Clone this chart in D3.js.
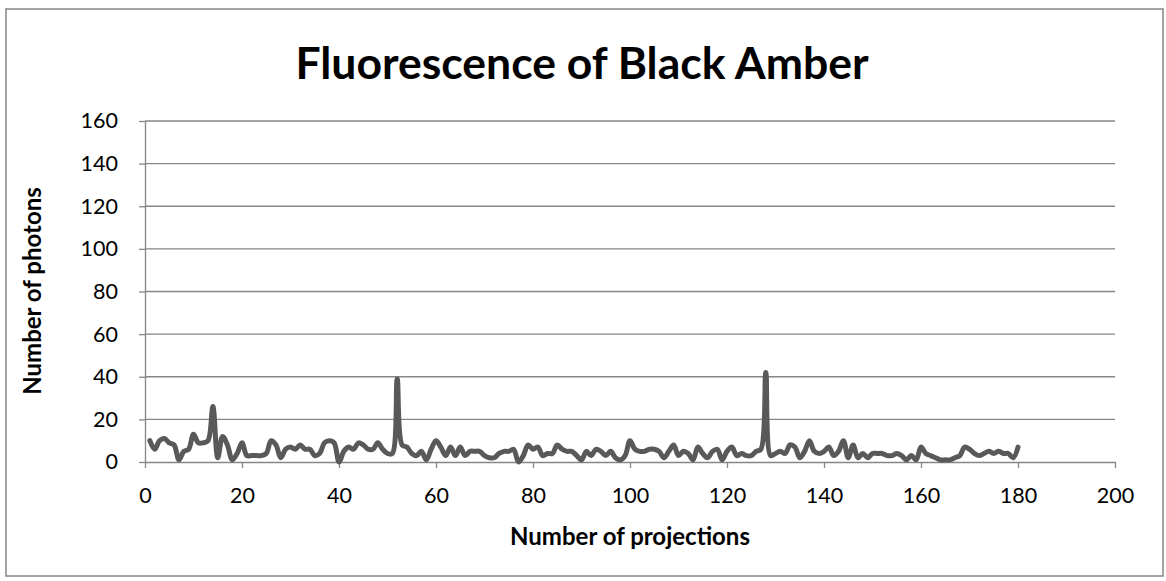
<!DOCTYPE html>
<html>
<head>
<meta charset="utf-8">
<script src="https://cdn.jsdelivr.net/npm/d3@7"></script>
<style>
  body { margin: 0; background: #fff; }
  text { font-family: Lato, "Open Sans", sans-serif; fill: #000; }
</style>
</head>
<body>
<script>
// photon counts per projection (projection 1..180)
let photons = [
  10, 6, 10, 11, 9, 8, 1, 5, 6, 13, 9, 9, 10, 26, 2, 12, 8, 1, 4, 9,
  3, 3, 3, 3, 4, 10, 8, 2, 6, 7, 6, 8, 6, 6, 3, 4, 9, 10, 9, 0,
  5, 7, 6, 9, 8, 6, 6, 9, 6, 4, 4, 39, 8, 7, 4, 3, 5, 1, 6, 10,
  7, 3, 7, 3, 7, 3, 5, 5, 5, 3, 2, 2, 4, 5, 5, 6, 0, 3, 8, 6,
  7, 3, 4, 4, 8, 6, 5, 5, 3, 1, 5, 3, 6, 5, 3, 5, 2, 1, 3, 10,
  6, 5, 5, 6, 6, 5, 2, 5, 8, 3, 5, 4, 1, 7, 4, 2, 5, 6, 1, 5,
  7, 3, 4, 3, 3, 5, 6, 42, 3, 4, 5, 4, 8, 7, 2, 5, 10, 5, 4, 5,
  7, 3, 5, 10, 2, 8, 2, 4, 2, 4, 4, 4, 3, 3, 4, 3, 1, 3, 1, 7,
  4, 3, 2, 1, 1, 1, 2, 3, 7, 6, 4, 3, 4, 5, 4, 5, 4, 4, 2, 7
];
let projections = photons.map((d, i) => i + 1);
let xTicks = [0, 20, 40, 60, 80, 100, 120, 140, 160, 180, 200];
let yTicks = [0, 20, 40, 60, 80, 100, 120, 140, 160];

let data = projections.map((p, i) => [p, photons[i]]);

let width = 1166, height = 581;
let plotLeft = 145, plotRight = 1115, plotTop = 121, plotBottom = 462;
let gridColor = "#868686";

let svg = d3.select("body").append("svg")
    .attr("width", width).attr("height", height);

svg.append("rect")
    .attr("x", 6).attr("y", 9)
    .attr("width", 1157).attr("height", 567)
    .attr("fill", "#fff")
    .attr("stroke", gridColor).attr("stroke-width", 1.5);

let xScale = d3.scaleLinear().domain([0, 200]).range([plotLeft, plotRight]);
let yScale = d3.scaleLinear().domain([0, 160]).range([plotBottom, plotTop]);

// horizontal gridlines
svg.append("g").selectAll("line")
    .data(yTicks.filter(d => d > 0)).enter()
    .append("line")
    .attr("x1", plotLeft).attr("x2", plotRight)
    .attr("y1", d => yScale(d)).attr("y2", d => yScale(d))
    .attr("stroke", gridColor).attr("stroke-width", 1.3);

let xAxis = svg.append("g")
    .attr("transform", "translate(0," + plotBottom + ")")
    .call(d3.axisBottom(xScale).tickValues(xTicks).tickSize(6).tickPadding(15).tickSizeOuter(0));

let yAxis = svg.append("g")
    .attr("transform", "translate(" + plotLeft + ",0)")
    .call(d3.axisLeft(yScale).tickValues(yTicks).tickSize(6).tickPadding(21).tickSizeOuter(0));

[xAxis, yAxis].forEach(function (g) {
    g.selectAll("path, line").attr("stroke", gridColor).attr("stroke-width", 1.3);
    g.selectAll("text")
        .style("font-family", "Lato, 'Open Sans', sans-serif")
        .style("font-size", "21.5px")
        .attr("fill", "#000");
});
xAxis.selectAll("text").attr("dy", "0.95em");

let line = d3.line()
    .x(function (d) { return xScale(d[0]); })
    .y(function (d) { return yScale(d[1]); })
    .curve(d3.curveCatmullRom);

svg.append("path")
    .datum(data)
    .attr("d", line)
    .attr("fill", "none")
    .attr("stroke", "#595959")
    .attr("stroke-width", 5)
    .attr("stroke-linejoin", "round")
    .attr("stroke-linecap", "round");

svg.append("text")
    .attr("x", 582).attr("y", 79)
    .attr("text-anchor", "middle")
    .style("font-size", "44.5px").style("font-weight", "bold")
    .text("Fluorescence of Black Amber");

svg.append("text")
    .attr("x", 630).attr("y", 545)
    .attr("text-anchor", "middle")
    .style("font-size", "24px").style("font-weight", "bold")
    .text("Number of projections");

svg.append("text")
    .attr("transform", "translate(41,291) rotate(-90)")
    .attr("text-anchor", "middle")
    .style("font-size", "24px").style("font-weight", "bold")
    .text("Number of photons");
</script>
</body>
</html>
